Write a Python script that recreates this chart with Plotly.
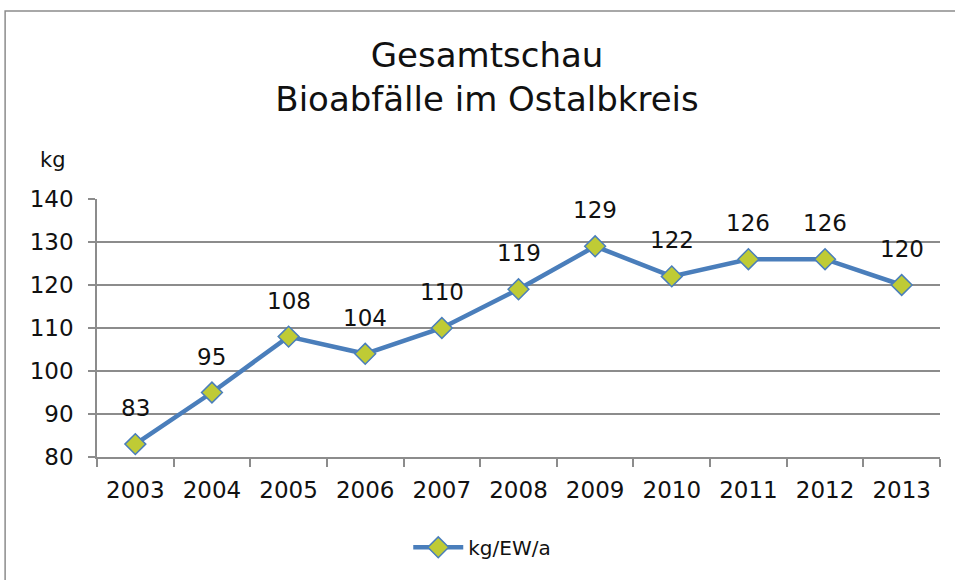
import plotly.graph_objects as go

years = ["2003", "2004", "2005", "2006", "2007", "2008", "2009", "2010", "2011", "2012", "2013"]
values = [83, 95, 108, 104, 110, 119, 129, 122, 126, 126, 120]
series_name = "kg/EW/a"
title_lines = ["Gesamtschau", "Bioabfälle im Ostalbkreis"]
y_unit = "kg"

FONT = "DejaVu Sans"
LINE = "#4A7EBB"
MARK = "#BFCB35"

fig = go.Figure()
fig.add_trace(go.Scatter(
    x=years, y=values, mode="lines+markers", name=series_name,
    line=dict(color=LINE, width=4.5),
    marker=dict(symbol="diamond", size=16, color=MARK, line=dict(color=LINE, width=1.5)),
    cliponaxis=False,
))

for i, v in enumerate(values):
    fig.add_annotation(x=i, y=v, text=str(v), showarrow=False, yshift=36,
                       font=dict(family=FONT, size=23, color="#111"))

fig.add_annotation(xref="paper", yref="paper", x=-0.07, y=1.151, text=y_unit,
                   showarrow=False, xanchor="left", yanchor="middle",
                   font=dict(family=FONT, size=21, color="#111"))

fig.add_shape(type="rect", xref="paper", yref="paper", x0=-0.109, x1=1.2, y0=-0.8, y1=1.729,
              line=dict(color="#8c8c8c", width=1.5), fillcolor="rgba(0,0,0,0)", layer="below")

fig.update_layout(
    width=955, height=580,
    margin=dict(l=97, r=15, t=199, b=123, autoexpand=False),
    paper_bgcolor="white", plot_bgcolor="white",
    title=dict(text="<br>".join(title_lines), x=0.51, xanchor="center", y=0.885, yanchor="middle",
               font=dict(family=FONT, size=34, color="#111")),
    showlegend=True,
    legend=dict(orientation="h", x=0.457, xanchor="center", y=-0.35, yanchor="middle",
                font=dict(family=FONT, size=20, color="#111"), itemwidth=50),
    xaxis=dict(type="category", range=[-0.5, len(years) - 0.5], showgrid=False, showline=True,
               linecolor="#8c8c8c", linewidth=1.5,
               ticks="outside", ticklen=8, tickcolor="#8c8c8c", tickwidth=1.5, tickangle=0,
               ticklabelstandoff=12,
               tickson="boundaries", tickfont=dict(family=FONT, size=23, color="#111")),
    yaxis=dict(range=[80, 140], dtick=10, showgrid=True, gridcolor="#8c8c8c", gridwidth=1.5,
               showline=True, linecolor="#8c8c8c", linewidth=1.5, ticks="outside", ticklen=7,
               tickcolor="#8c8c8c", tickwidth=1.5, zeroline=False, ticklabelstandoff=10,
               tickfont=dict(family=FONT, size=23, color="#111")),
)

fig.write_html("out.html", config={"displayModeBar": False},
               post_script="document.body.style.margin='0';")
